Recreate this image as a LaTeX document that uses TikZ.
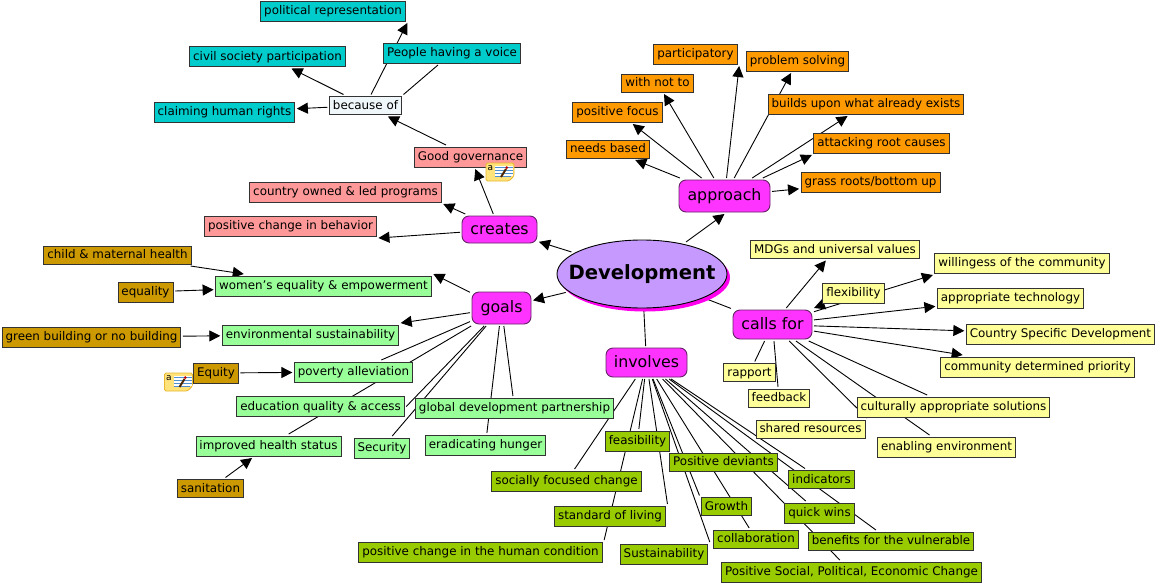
\documentclass[tikz,border=0pt]{standalone}
\usepackage{fontspec}
\setmainfont{DejaVu Sans}
\usetikzlibrary{arrows.meta,backgrounds,shapes.geometric,shadows}
\definecolor{voicecyan}{HTML}{00CCCC}
\definecolor{createsred}{HTML}{FF9999}
\definecolor{goalgreen}{HTML}{99FF99}
\definecolor{goalgold}{HTML}{CC9900}
\definecolor{approachorange}{HTML}{FF9900}
\definecolor{callsyellow}{HTML}{FFFF99}
\definecolor{involvesolive}{HTML}{99CC00}
\definecolor{hubmagenta}{HTML}{FF33FF}
\definecolor{hubedge}{HTML}{662266}
\definecolor{rootpurple}{HTML}{C699FF}
\definecolor{rootshadow}{HTML}{FF00EE}
\definecolor{becausewhite}{HTML}{F0F7FA}
\definecolor{noteyellow}{HTML}{FFE27A}
\definecolor{notegold}{HTML}{E8B830}
\definecolor{noteblue}{HTML}{4F8FD0}

\begin{document}
\begin{tikzpicture}[x=1pt,y=-1pt,
    concept/.style={draw=black!80,line width=.9pt,inner xsep=3.5pt,inner ysep=0pt,outer sep=2pt,
      minimum height=20pt,text height=10pt,text depth=2.6pt,font=\fontsize{11.9}{14}\selectfont},
    short/.style={minimum height=18pt},
    voicebox/.style={concept,fill=voicecyan},
    createbox/.style={concept,fill=createsred},
    goalbox/.style={concept,fill=goalgreen},
    causebox/.style={concept,fill=goalgold},
    approachbox/.style={concept,fill=approachorange},
    callbox/.style={concept,fill=callsyellow},
    involvebox/.style={concept,fill=involvesolive},
    hub/.style={draw=hubedge,line width=.9pt,fill=hubmagenta,rounded corners=7pt,outer sep=2pt,
      inner sep=0pt,font=\fontsize{15.8}{18}\selectfont,text height=13pt,text depth=3.5pt},
    plainlink/.style={draw=black,line width=.9pt},
    arrowlink/.style={plainlink,-{Triangle[length=11pt,width=11pt]}},
    noteicon/.pic={
      \draw[fill=noteyellow,draw=notegold,line width=.8pt,rounded corners=1.5pt]
        (0,0) -- (28,0) -- (28,13) -- (23,18) -- (0,18) -- cycle;
      \fill[white] (9,3) rectangle (27,13);
      \draw[noteblue,line width=.8pt] (9,4) -- (27,4) (9,7) -- (27,7) (9,10) -- (27,10) (9,13) -- (25,13);
      \node[font=\fontsize{9}{9}\selectfont,inner sep=0pt] (-mark) at (4.3,5) {a};
      \draw[black!70!orange,line width=2pt] (15,14) -- (20,6);
      \fill[red!75!black] (20.8,4.6) circle (1.5);
    }]
  \useasboundingbox (0,0) rectangle (1157,584);

  % The centre and the five linking hubs.
  \node[ellipse,draw=black,line width=.9pt,fill=rootpurple,minimum width=170pt,minimum height=68pt,
    inner sep=0pt,outer sep=3pt,font=\bfseries\fontsize{19.6}{24}\selectfont,
    drop shadow={shadow xshift=3pt,shadow yshift=-3.5pt,fill=rootshadow,opacity=1}] (development) at (642,274) {\makebox[0pt]{Development}};
  \node[hub,minimum width=75pt,minimum height=27pt] (creates) at (499.5,229.5) {creates};
  \node[hub,minimum width=59pt,minimum height=32pt] (goals) at (501.5,308) {goals};
  \node[hub,minimum width=91pt,minimum height=32pt] (approach) at (724.5,196) {approach};
  \node[hub,minimum width=79pt,minimum height=29pt] (callsfor) at (772.5,324.5) {calls for};
  \node[hub,minimum width=81pt,minimum height=29pt] (involves) at (646.5,362.5) {involves};

  % Upper left: what creates leads to.
  \node[voicebox] (political) at (333,11) {political representation};
  \node[voicebox] (civil) at (267.5,56.5) {civil society participation};
  \node[voicebox] (voice) at (452,53) {People having a voice};
  \node[voicebox] (rights) at (224.5,112) {claiming human rights};
  \node[concept,fill=becausewhite,short] (because) at (365.5,105.5) {because of};
  \node[createbox] (governance) at (470.5,157) {Good governance};
  \node[createbox] (owned) at (345.5,192) {country owned \& led programs};
  \node[createbox] (behavior) at (290.5,226) {positive change in behavior};

  % Left: the goals and their causes.
  \node[causebox,short] (maternal) at (117.5,255) {child \& maternal health};
  \node[causebox] (equality) at (145.5,292) {equality};
  \node[causebox] (green) at (91.5,337) {green building or no building};
  \node[causebox] (equity) at (216,373) {Equity};
  \node[causebox,short] (sanitation) at (210.5,488.5) {sanitation};
  \node[goalbox] (women) at (323.5,286) {women's equality \& empowerment};
  \node[goalbox] (environment) at (310.5,335) {environmental sustainability};
  \node[goalbox] (poverty) at (353.5,372) {poverty alleviation};
  \node[goalbox] (education) at (320.5,406.5) {education quality \& access};
  \node[goalbox] (health) at (268.5,446) {improved health status};
  \node[goalbox] (security) at (382,448) {Security};
  \node[goalbox] (partnership) at (514.5,408) {global development partnership};
  \node[goalbox] (hunger) at (485.5,445) {eradicating hunger};

  % Top right: the approach.
  \node[approachbox] (participatory) at (695.5,54) {participatory};
  \node[approachbox] (solving) at (797.5,61) {problem solving};
  \node[approachbox,short] (withnot) at (657.5,83) {with not to};
  \node[approachbox] (focus) at (617.5,112) {positive focus};
  \node[approachbox] (builds) at (866,104) {builds upon what already exists};
  \node[approachbox,short] (needs) at (608,149) {needs based};
  \node[approachbox] (rootcauses) at (881.5,143) {attacking root causes};
  \node[approachbox] (grassroots) at (870.5,182) {grass roots/bottom up};

  % Right: what development calls for.
  \node[callbox,short] (universal) at (835,249.5) {MDGs and universal values};
  \node[callbox] (flexibility) at (853.5,293) {flexibility};
  \node[callbox] (willingess) at (1022,263) {willingess of the community};
  \node[callbox] (technology) at (1010.5,298) {appropriate technology};
  \node[callbox] (specific) at (1060.5,334) {Country Specific Development};
  \node[callbox] (priority) at (1037.5,367) {community determined priority};
  \node[callbox,short] (rapport) at (749.5,372.5) {rapport};
  \node[callbox,short] (feedback) at (779,398) {feedback};
  \node[callbox,short] (shared) at (810.5,429) {shared resources};
  \node[callbox] (cultural) at (953.5,407) {culturally appropriate solutions};
  \node[callbox] (enabling) at (946.5,447) {enabling environment};

  % Bottom: what development involves.
  \node[involvebox] (feasibility) at (637.5,441) {feasibility};
  \node[involvebox] (socially) at (566.5,481) {socially focused change};
  \node[involvebox] (standard) at (610,516) {standard of living};
  \node[involvebox] (condition) at (480.5,552) {positive change in the human condition};
  \node[involvebox] (sustainability) at (664,554) {Sustainability};
  \node[involvebox,short] (deviants) at (723.5,462) {Positive deviants};
  \node[involvebox,short] (indicators) at (821.5,479.5) {indicators};
  \node[involvebox,short] (growth) at (726.5,506.5) {Growth};
  \node[involvebox] (quickwins) at (819.5,513) {quick wins};
  \node[involvebox,short] (collaboration) at (756,539) {collaboration};
  \node[involvebox,short] (benefits) at (891,541) {benefits for the vulnerable};
  \node[involvebox] (socialchange) at (851.5,572) {Positive Social, Political, Economic Change};

  % The two notes sit on top of their nodes.
  \pic (governancenote) at (486,163) {noteicon};
  \pic (equitynote) at (164.5,373) {noteicon};

  % All links run under the boxes.
  \begin{scope}[on background layer]
    \fill[white] (0,0) rectangle (1157,584);
    \draw[arrowlink] (development) -- (creates);
    \draw[arrowlink] (development) -- (goals);
    \draw[arrowlink] (development) -- (approach.south);
    \draw[plainlink] (development) -- (callsfor);
    \draw[plainlink] (development) -- (involves);

    \draw[arrowlink] (creates) -- (governance);
    \draw[arrowlink] (creates) -- (owned.south east);
    \draw[arrowlink] (creates) -- (behavior.south east);
    \draw[arrowlink] (governance) -- (because);
    \draw[arrowlink] (because) -- (political.south east);
    \draw[plainlink] (because.north east) -- (voice);
    \draw[arrowlink] (because) -- (civil);
    \draw[arrowlink] (because) -- (rights);

    \draw[arrowlink] (goals) -- (women.north east);
    \draw[arrowlink] (goals) -- (environment.north east);
    \draw[plainlink] (goals) -- (poverty);
    \draw[plainlink] (goals) -- (education.east);
    \draw[plainlink] (goals) -- (health);
    \draw[plainlink] (goals) -- (security);
    \draw[plainlink] (goals) -- (partnership);
    \draw[plainlink] (goals) -- (hunger);
    \draw[arrowlink] (maternal) -- (women);
    \draw[arrowlink] (equality) -- (women);
    \draw[arrowlink] (green) -- (environment);
    \draw[arrowlink] (equity) -- (poverty);
    \draw[arrowlink] (sanitation) -- (health);

    \draw[arrowlink] (approach) -- (needs);
    \draw[arrowlink] (approach) -- (focus);
    \draw[arrowlink] (approach) -- (withnot);
    \draw[arrowlink] (approach) -- (participatory.south east);
    \draw[arrowlink] (approach) -- (solving);
    \draw[arrowlink] (approach) -- (builds);
    \draw[arrowlink] (approach) -- (rootcauses.south west);
    \draw[arrowlink] (approach) -- (grassroots);

    \draw[arrowlink] (callsfor) -- (universal);
    \draw[arrowlink] (flexibility) -- (callsfor.north east);
    \draw[arrowlink] (callsfor) -- (willingess.south west);
    \draw[arrowlink] (callsfor) -- (technology);
    \draw[arrowlink] (callsfor) -- (specific);
    \draw[arrowlink] (callsfor) -- (priority);
    \draw[plainlink] (callsfor) -- (rapport);
    \draw[plainlink] (callsfor) -- (feedback);
    \draw[plainlink] (callsfor) -- (shared.north east);
    \draw[plainlink] (callsfor) -- (cultural);
    \draw[plainlink] (callsfor) -- (enabling);

    \draw[plainlink] (involves) -- (socially);
    \draw[plainlink] (involves) -- (condition.north east);
    \draw[plainlink] (involves) -- (feasibility);
    \draw[plainlink] (involves) -- (standard.north east);
    \draw[plainlink] (involves) -- (sustainability.north east);
    \draw[plainlink] (involves) -- (growth.north west);
    \draw[plainlink] (involves) -- (collaboration);
    \draw[plainlink] (involves) -- (socialchange);
    \draw[plainlink] (involves) -- (quickwins);
    \draw[plainlink] (involves) -- (benefits);
    \draw[plainlink] (involves) -- (indicators);
  \end{scope}
\end{tikzpicture}
\end{document}
